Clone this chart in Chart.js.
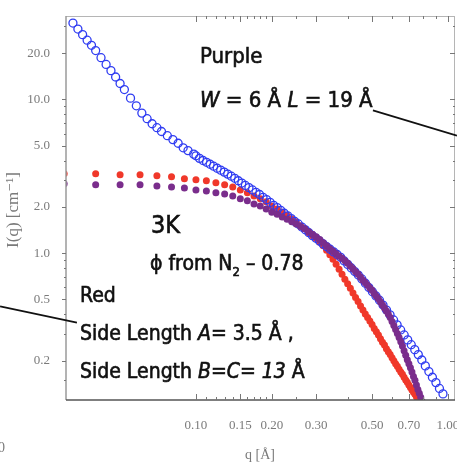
<!DOCTYPE html>
<html>
<head>
<meta charset="utf-8">
<script src="https://cdn.jsdelivr.net/npm/chart.js@4.4.1/dist/chart.umd.min.js"></script>
<style>
  html, body { margin: 0; padding: 0; background: #fff; }
  #wrap { width: 457px; height: 463px; }
</style>
</head>
<body>
<div id="wrap"><canvas id="sasChart" width="457" height="463"></canvas></div>
<script>
// measured scattering curve, q in 1/Å, I in 1/cm
const qMeasured = [0.0325, 0.034, 0.0355, 0.037, 0.0385, 0.040, 0.042, 0.044, 0.046, 0.048,
  0.050, 0.052, 0.055, 0.058, 0.061, 0.064, 0.067, 0.070, 0.073, 0.077,
  0.081, 0.085, 0.089, 0.093, 0.098,
  0.1, 0.1033, 0.1067, 0.1102, 0.1138, 0.1175, 0.1214, 0.1254, 0.1295, 0.1337,
  0.1381, 0.1426, 0.1473, 0.1521, 0.1571, 0.1623, 0.1676, 0.1731, 0.1788, 0.1846,
  0.1907, 0.1969, 0.2034, 0.2101, 0.2170, 0.2241, 0.2314, 0.2390, 0.2468, 0.2549,
  0.2633, 0.2719, 0.2808, 0.2900, 0.2995, 0.3093, 0.3195, 0.3299, 0.3407, 0.3519,
  0.3634, 0.3753, 0.3876, 0.4003, 0.4134, 0.4269, 0.4409, 0.4554, 0.4703, 0.4857,
  0.5016, 0.5181, 0.5351, 0.5526, 0.5707, 0.5894, 0.6087, 0.6287, 0.6493, 0.6706,
  0.6926, 0.7153, 0.7387, 0.7629, 0.7879, 0.8137, 0.8404, 0.8679, 0.8964, 0.9257,
  0.956];
const iMeasured = [31.4, 28.7, 26.4, 24.3, 22.5, 20.8, 18.7, 16.9, 15.4, 14.0,
  12.7, 11.6, 10.2, 9.09, 8.15, 7.50, 6.95, 6.55, 6.19, 5.81,
  5.48, 5.19, 4.85, 4.65, 4.41,
  4.30, 4.14, 4.01, 3.90, 3.79, 3.68, 3.57, 3.47, 3.37, 3.27,
  3.17, 3.07, 2.96, 2.86, 2.76, 2.67, 2.58, 2.49, 2.41, 2.31,
  2.23, 2.14, 2.05, 1.98, 1.90, 1.82, 1.75, 1.68, 1.61, 1.55,
  1.48, 1.42, 1.36, 1.30, 1.25, 1.20, 1.15, 1.105, 1.061, 1.020,
  0.981, 0.941, 0.891, 0.846, 0.802, 0.760, 0.721, 0.680, 0.638, 0.598,
  0.562, 0.527, 0.495, 0.460, 0.427, 0.397, 0.368, 0.342, 0.317, 0.294,
  0.273, 0.254, 0.236, 0.219, 0.202, 0.185, 0.170, 0.156, 0.144, 0.132,
  0.1216];

// model curves share one q grid
const qModel = [0.03, 0.04, 0.05, 0.06, 0.07, 0.08, 0.09, 0.10, 0.11, 0.12,
  0.13, 0.14, 0.15, 0.16, 0.17, 0.18, 0.19, 0.20, 0.21, 0.22,
  0.23, 0.24, 0.25, 0.26, 0.27, 0.28, 0.29, 0.30, 0.31, 0.32,
  0.33, 0.34, 0.35, 0.36, 0.37, 0.38, 0.39, 0.40, 0.41, 0.42,
  0.43, 0.44, 0.45, 0.46, 0.47, 0.48, 0.49, 0.50, 0.51, 0.52,
  0.53, 0.54, 0.55, 0.56, 0.57, 0.58, 0.59, 0.60, 0.61, 0.62,
  0.63, 0.64, 0.65, 0.66, 0.67, 0.68, 0.69, 0.70, 0.71, 0.72,
  0.73, 0.74, 0.75, 0.76, 0.77, 0.78, 0.79, 0.80];
// red: side length A = 3.5 Å, B = C = 13 Å
const iRed = [3.29, 3.29, 3.24, 3.24, 3.19, 3.14, 3.05, 3.00, 2.96, 2.87,
  2.79, 2.70, 2.58, 2.47, 2.36, 2.26, 2.16, 2.03, 1.94, 1.85,
  1.76, 1.67, 1.60, 1.51, 1.44, 1.36, 1.30, 1.245, 1.18, 1.12,
  1.047, 0.978, 0.914, 0.848, 0.786, 0.730, 0.677, 0.632, 0.591, 0.552,
  0.516, 0.486, 0.454, 0.428, 0.403, 0.382, 0.362, 0.344, 0.324, 0.309,
  0.294, 0.278, 0.264, 0.253, 0.239, 0.229, 0.219, 0.209, 0.200, 0.191,
  0.184, 0.176, 0.169, 0.163, 0.156, 0.150, 0.145, 0.139, 0.134, 0.129,
  0.1245, 0.121, 0.1163, 0.1129, 0.1095, 0.1063, 0.103, 0.100];
// purple: W = 6 Å, L = 19 Å
const iPurple = [2.83, 2.79, 2.79, 2.79, 2.74, 2.70, 2.66, 2.58, 2.54, 2.47,
  2.43, 2.36, 2.26, 2.19, 2.09, 2.03, 1.94, 1.85, 1.79, 1.72,
  1.66, 1.60, 1.55, 1.49, 1.44, 1.38, 1.33, 1.28, 1.23, 1.17,
  1.12, 1.07, 1.03, 0.993, 0.956, 0.928, 0.894, 0.861, 0.823, 0.793,
  0.757, 0.730, 0.697, 0.667, 0.642, 0.618, 0.595, 0.574, 0.548, 0.524,
  0.505, 0.482, 0.461, 0.441, 0.421, 0.403, 0.382, 0.360, 0.339, 0.319,
  0.300, 0.283, 0.266, 0.249, 0.232, 0.217, 0.203, 0.191, 0.180, 0.169,
  0.158, 0.149, 0.139, 0.130, 0.1227, 0.1155, 0.1087, 0.1031];

// axis ticks
const qTicks = [0.10, 0.15, 0.20, 0.30, 0.50, 0.70, 1.00];
const qMinor = [0.11, 0.12, 0.13, 0.14, 0.16, 0.17, 0.18, 0.19, 0.25, 0.40, 0.60, 0.80, 0.90];
const iTicks = [0.2, 0.5, 1, 2, 5, 10, 20];
const iMinor = [0.15, 0.3, 0.4, 0.6, 0.7, 0.8, 0.9, 3, 4, 6, 7, 8, 9, 30];

const pts = (xs, ys) => xs.map((x, i) => ({ x: x, y: ys[i] }));

const TEXT_FONT = '"DejaVu Sans Condensed", "DejaVu Sans", sans-serif';
const AXIS_FONT = '"Liberation Serif", "DejaVu Serif", serif';

// draw a line of mixed upright / italic / subscript pieces
function richText(ctx, x, y, size, parts) {
  let cx = x;
  parts.forEach(p => {
    const sz = p.sub ? Math.round(size * 0.62) : size;
    const yy = y + (p.sub ? size * 0.28 : 0);
    ctx.font = (p.it ? 'italic ' : '') + sz + 'px ' + TEXT_FONT;
    ctx.fillText(p.t, cx, yy);
    ctx.strokeText(p.t, cx, yy);
    cx += ctx.measureText(p.t).width;
  });
}

const decor = {
  id: 'decor',
  afterDatasetsDraw(chart) {
    const ctx = chart.ctx;
    const a = chart.chartArea;
    const xs = chart.scales.x, ys = chart.scales.y;
    ctx.save();
    // frame
    ctx.lineWidth = 1;
    ctx.strokeStyle = '#b5b5b5';
    ctx.beginPath();
    ctx.moveTo(a.left, a.top + 0.5); ctx.lineTo(a.right, a.top + 0.5);
    ctx.moveTo(a.right - 0.5, a.top); ctx.lineTo(a.right - 0.5, a.bottom);
    ctx.stroke();
    ctx.lineWidth = 1.5;
    ctx.strokeStyle = '#9a9a9a';
    ctx.beginPath();
    ctx.moveTo(a.left, a.top); ctx.lineTo(a.left, a.bottom);
    ctx.stroke();
    ctx.strokeStyle = '#555';
    ctx.beginPath();
    ctx.moveTo(a.left, a.bottom); ctx.lineTo(a.right, a.bottom);
    ctx.stroke();

    // tick marks on all four sides
    ctx.lineWidth = 1;
    ctx.strokeStyle = '#777';
    ctx.beginPath();
    qTicks.concat(qMinor).forEach(v => {
      const len = qTicks.includes(v) ? 6 : 3;
      const px = Math.round(xs.getPixelForValue(v)) + 0.5;
      ctx.moveTo(px, a.bottom); ctx.lineTo(px, a.bottom - len);
      ctx.moveTo(px, a.top); ctx.lineTo(px, a.top + len);
    });
    iTicks.concat(iMinor).forEach(v => {
      const major = iTicks.includes(v);
      const py = Math.round(ys.getPixelForValue(v)) + 0.5;
      if (py < a.top || py > a.bottom) return;
      ctx.moveTo(a.left, py); ctx.lineTo(a.left - (major ? 4 : 2), py);
      ctx.moveTo(a.right, py); ctx.lineTo(a.right - (major ? 5 : 2), py);
    });
    ctx.stroke();
    ctx.restore();
  },
  afterDraw(chart) {
    const ctx = chart.ctx;
    const xs = chart.scales.x, ys = chart.scales.y;
    ctx.save();

    // axis titles
    ctx.fillStyle = '#7a7a7a';
    ctx.font = '14px ' + AXIS_FONT;
    ctx.textAlign = 'center';
    ctx.textBaseline = 'middle';
    ctx.fillText('q [Å]', 260, 455);
    ctx.save();
    ctx.translate(14, 210);
    ctx.rotate(-Math.PI / 2);
    ctx.font = '17px ' + AXIS_FONT;
    ctx.fillText('I(q) [cm⁻¹]', 0, 0);
    ctx.restore();
    ctx.textAlign = 'left';
    ctx.textBaseline = 'alphabetic';
    ctx.fillText('0', -2, 452);

    // callout lines, anchored in data space
    ctx.strokeStyle = '#111';
    ctx.lineWidth = 1.8;
    ctx.beginPath();
    ctx.moveTo(xs.getPixelForValue(0.0167), ys.getPixelForValue(0.451));
    ctx.lineTo(xs.getPixelForValue(0.0337), ys.getPixelForValue(0.354));
    ctx.moveTo(xs.getPixelForValue(0.504), ys.getPixelForValue(8.48));
    ctx.lineTo(xs.getPixelForValue(1.086), ys.getPixelForValue(5.82));
    ctx.stroke();

    // annotations
    ctx.fillStyle = '#111';
    ctx.strokeStyle = '#111';
    ctx.lineWidth = 0.6;
    richText(ctx, 200, 63, 22, [{ t: 'Purple' }]);
    richText(ctx, 200, 107, 22, [{ t: 'W', it: true }, { t: ' = 6 Å ' }, { t: 'L', it: true }, { t: ' = 19 Å' }]);
    richText(ctx, 151, 233, 25, [{ t: '3K' }]);
    richText(ctx, 150, 270, 21, [{ t: 'ϕ from N' }, { t: '2', sub: true }, { t: ' – 0.78' }]);
    richText(ctx, 80, 302, 21, [{ t: 'Red' }]);
    richText(ctx, 80, 340, 21, [{ t: 'Side Length ' }, { t: 'A', it: true }, { t: '= 3.5 Å ,' }]);
    richText(ctx, 80, 378, 21, [{ t: 'Side Length ' }, { t: 'B', it: true }, { t: '=' }, { t: 'C', it: true }, { t: '= ' }, { t: '13', it: true }, { t: ' Å' }]);
    ctx.restore();
  }
};

const ctx = document.getElementById('sasChart').getContext('2d');
new Chart(ctx, {
  type: 'scatter',
  data: {
    datasets: [
      {
        label: 'Purple',
        data: pts(qModel, iPurple),
        backgroundColor: '#7a2d8c',
        borderWidth: 0,
        pointRadius: 3.5,
        clip: 0
      },
      {
        label: 'Measured',
        data: pts(qMeasured, iMeasured),
        backgroundColor: 'rgba(0,0,0,0)',
        borderColor: '#2f3cf2',
        borderWidth: 1.3,
        pointRadius: 4,
        clip: 0
      },
      {
        label: 'Red',
        data: pts(qModel, iRed),
        backgroundColor: '#f0382a',
        borderWidth: 0,
        pointRadius: 3.5,
        clip: 0
      }
    ]
  },
  options: {
    responsive: false,
    animation: false,
    events: [],
    layout: { autoPadding: false, padding: { top: 16, right: 2, left: 0, bottom: 0 } },
    plugins: { legend: { display: false }, tooltip: { enabled: false } },
    scales: {
      x: {
        type: 'logarithmic',
        min: 0.0305,
        max: 1.067,
        grid: { display: false },
        border: { display: false },
        afterBuildTicks: s => { s.ticks = qTicks.map(v => ({ value: v })); },
        // fixed axis band, no extra room for the end labels
        afterFit: s => { s.height = 63; s.paddingLeft = 0; s.paddingRight = 0; },
        ticks: {
          autoSkip: false,
          maxRotation: 0,
          padding: 10,
          color: '#7a7a7a',
          font: { family: AXIS_FONT, size: 13 },
          callback: v => Number(v).toFixed(2)
        }
      },
      y: {
        type: 'logarithmic',
        min: 0.111,
        max: 34.9,
        grid: { display: false },
        border: { display: false },
        afterBuildTicks: s => { s.ticks = iTicks.map(v => ({ value: v })); },
        afterFit: s => { s.width = 66; s.paddingTop = 0; s.paddingBottom = 0; },
        ticks: {
          autoSkip: false,
          padding: 8,
          color: '#7a7a7a',
          font: { family: AXIS_FONT, size: 13 },
          callback: v => Number(v).toFixed(1)
        }
      }
    }
  },
  plugins: [decor]
});
</script>
</body>
</html>
